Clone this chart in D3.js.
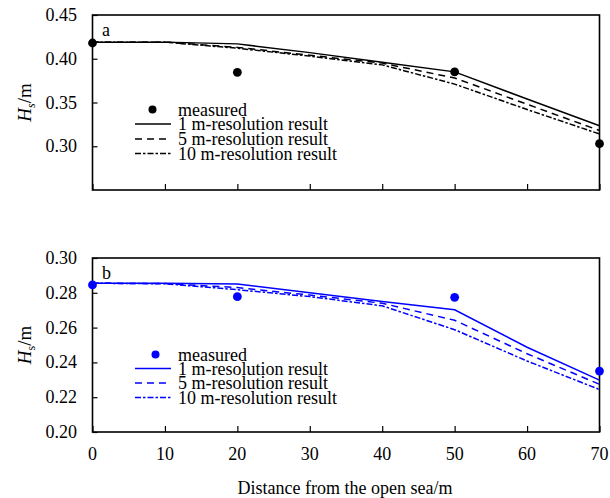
<!DOCTYPE html>
<html><head><meta charset="utf-8">
<script src="https://cdn.jsdelivr.net/npm/d3@7"></script>
<style>
html,body{margin:0;padding:0;background:#fff;}
svg text{font-family:"Liberation Serif","Times New Roman",serif;}
</style></head>
<body><svg id="c" width="610" height="498"></svg>
<script>
const distances = [0,10,20,30,40,50,60,70];
const measuredX = [0,20,50,70];
const xTicks = [0,10,20,30,40,50,60,70];

const topMeasured = [0.418,0.3845,0.385,0.303];
const topRes1  = [0.419,0.419,0.417,0.407,0.396,0.385,0.354,0.3235];
const topRes5  = [0.419,0.419,0.413,0.404,0.395,0.378,0.348,0.318];
const topRes10 = [0.419,0.419,0.412,0.403,0.393,0.371,0.342,0.314];
const topYTicks = [0.30,0.35,0.40,0.45];

const botMeasured = [0.2845,0.2778,0.2774,0.2350];
const botRes1  = [0.2855,0.2855,0.2850,0.2800,0.2750,0.2702,0.2487,0.2298];
const botRes5  = [0.2855,0.2853,0.2830,0.2787,0.2740,0.2642,0.2450,0.2274];
const botRes10 = [0.2855,0.2852,0.2818,0.2778,0.2725,0.2588,0.2408,0.2244];
const botYTicks = [0.20,0.22,0.24,0.26,0.28,0.30];

const legendLabels = ["measured","1 m-resolution result","5 m-resolution result","10 m-resolution result"];
const dashes = [null, null, "7,5", "6,2,2.5,2"];

const svg = d3.select("#c");
const left = 92.5, right = 599.5;
const x = d3.scaleLinear().domain([0,70]).range([left,right]);

function panel(opts){
  const y = d3.scaleLinear().domain(opts.domain).range([opts.bottom, opts.top]);
  const g = svg.append("g");
  const col = opts.color;
  g.append("rect").attr("x",left).attr("y",opts.top).attr("width",right-left).attr("height",opts.bottom-opts.top)
    .attr("fill","none").attr("stroke","#000").attr("stroke-width",1.6);
  const yAxis = d3.axisRight(y).tickValues(opts.yTicks).tickSize(5).tickFormat("");
  const ya = g.append("g").attr("transform",`translate(${left},0)`).call(yAxis);
  ya.select(".domain").remove();
  ya.selectAll("line").attr("stroke","#000").attr("stroke-width",1.2);
  g.selectAll(".yl").data(opts.yTicks).enter().append("text")
    .attr("x",77).attr("y",d=>y(d)).attr("text-anchor","end").attr("dominant-baseline","central")
    .attr("font-size",18).attr("fill","#000").text(d=>d3.format(".2f")(d));
  const xAxis = d3.axisTop(x).tickValues(xTicks).tickSize(6).tickFormat("");
  const xa = g.append("g").attr("transform",`translate(0,${opts.bottom})`).call(xAxis);
  xa.select(".domain").remove();
  xa.selectAll("line").attr("stroke","#000").attr("stroke-width",1.2);
  if(opts.xLabels){
    g.selectAll(".xl").data(xTicks).enter().append("text")
      .attr("x",d=>x(d)).attr("y",opts.bottom+22).attr("text-anchor","middle").attr("dominant-baseline","central")
      .attr("font-size",18).attr("fill","#000").text(d=>d);
  }
  const cy = (opts.top+opts.bottom)/2;
  const t = g.append("text").attr("transform",`translate(31,${cy}) rotate(-90)`).attr("text-anchor","middle")
    .attr("font-size",19).attr("fill","#000");
  t.append("tspan").attr("font-style","italic").text("H");
  t.append("tspan").attr("font-size",12).attr("dy",4).attr("font-style",opts.subItalic?"italic":"normal").text("s");
  t.append("tspan").attr("dy",-4).text("/m");
  g.append("text").attr("x",102).attr("y",opts.top+opts.letterDy).attr("font-size",18).attr("fill","#000").text(opts.letter);
  const line = d3.line().x((d,i)=>x(distances[i])).y(d=>y(d));
  [opts.r1,opts.r5,opts.r10].forEach((s,k)=>{
    g.append("path").datum(s).attr("d",line).attr("fill","none").attr("stroke",col)
      .attr("stroke-width",1.5).attr("stroke-dasharray",dashes[k+1]);
  });
  g.selectAll(".m").data(opts.meas).enter().append("circle")
    .attr("cx",(d,i)=>x(measuredX[i])).attr("cy",d=>y(d)).attr("r",4.4).attr("fill",col);
  const L = opts.legend;
  g.append("circle").attr("cx",L.dotX).attr("cy",L.y0).attr("r",4).attr("fill",col);
  legendLabels.forEach((lab,i)=>{
    if(i>0){
      g.append("line").attr("x1",135).attr("x2",171).attr("y1",L.lineY[i-1]).attr("y2",L.lineY[i-1])
        .attr("stroke",col).attr("stroke-width",1.5).attr("stroke-dasharray",dashes[i]);
    }
    g.append("text").attr("x",178).attr("y",i===0?L.y0:L.lineY[i-1]).attr("dominant-baseline","central")
      .attr("font-size",18).attr("fill","#000").text(lab);
  });
}

panel({top:15,bottom:190,domain:[0.25,0.45],yTicks:topYTicks,color:"#000",letter:"a",letterDy:21,
  r1:topRes1,r5:topRes5,r10:topRes10,meas:topMeasured,xLabels:false,subItalic:true,
  legend:{dotX:152.5,y0:109.5,lineY:[124,139,153.5]}});
panel({top:258,bottom:432,domain:[0.20,0.30],yTicks:botYTicks,color:"#0000ff",letter:"b",letterDy:21,
  r1:botRes1,r5:botRes5,r10:botRes10,meas:botMeasured,xLabels:true,subItalic:false,
  legend:{dotX:155.5,y0:354.5,lineY:[368.5,383,397.5]}});

svg.append("text").attr("x",345).attr("y",488).attr("text-anchor","middle").attr("dominant-baseline","central")
  .attr("font-size",18).attr("fill","#000").text("Distance from the open sea/m");
</script></body></html>
